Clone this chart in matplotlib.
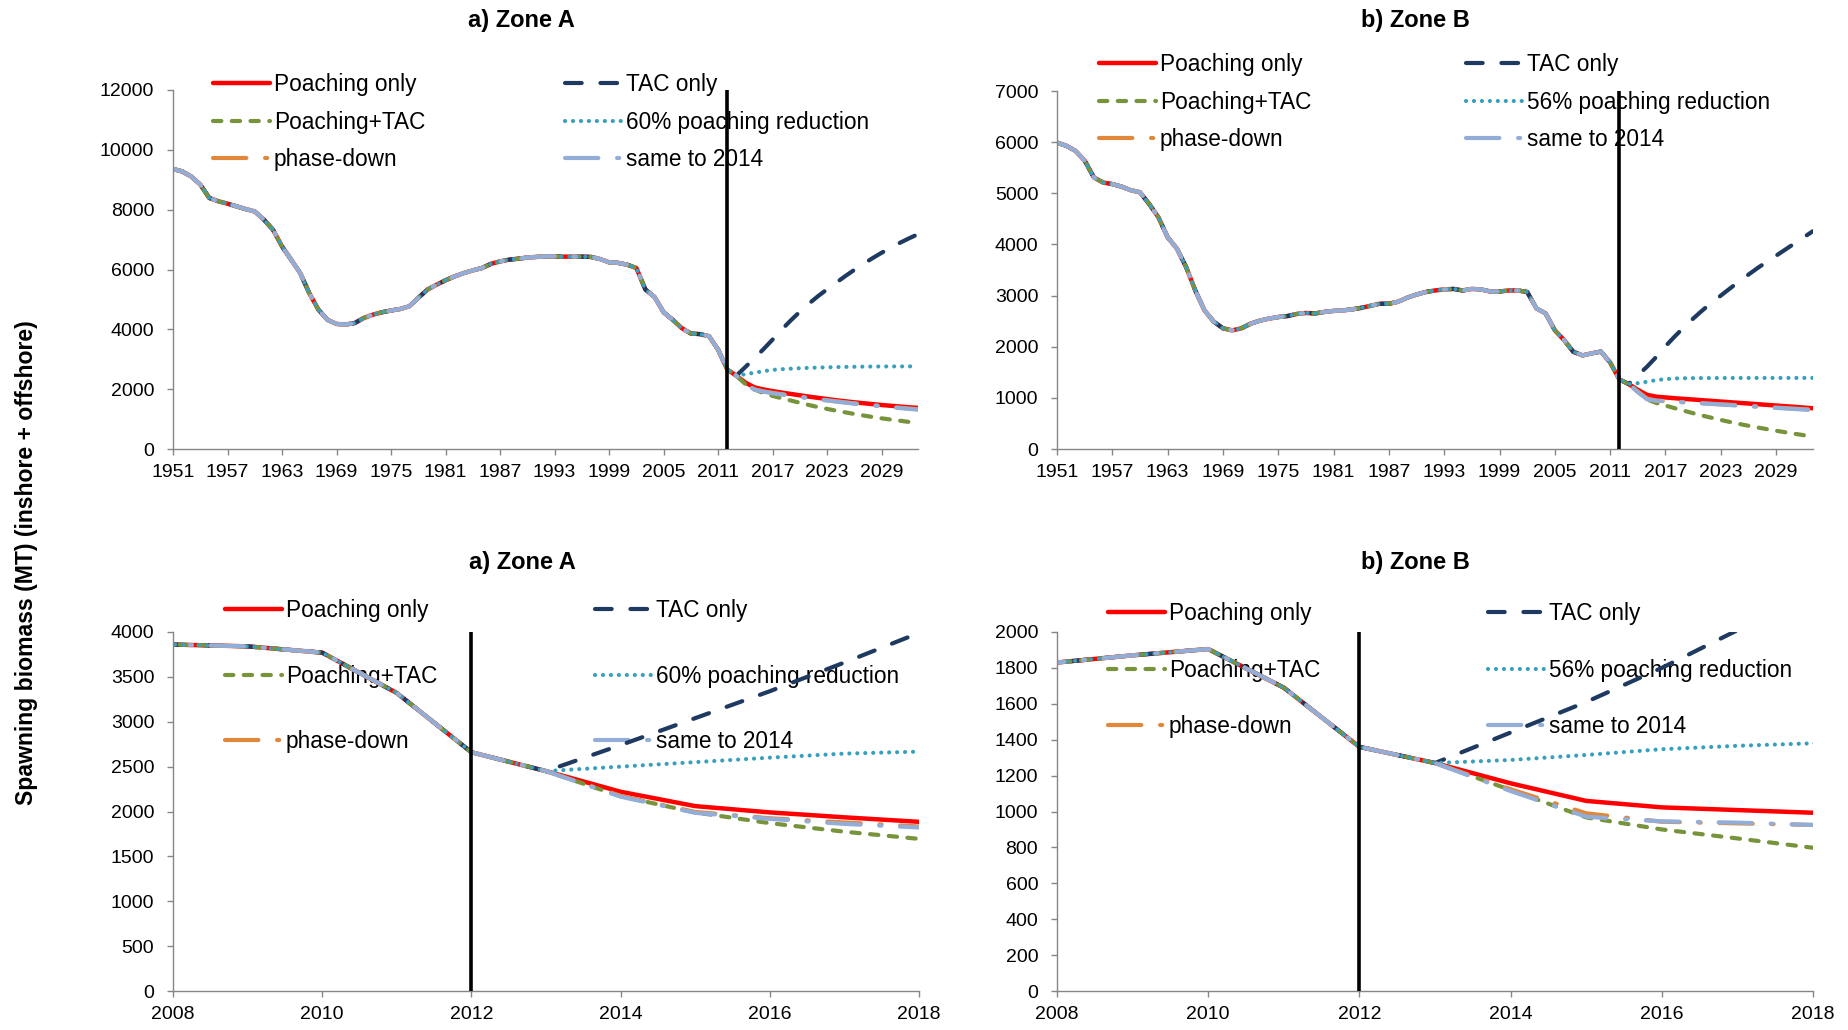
import numpy as np
import matplotlib
matplotlib.use("Agg")
import matplotlib.pyplot as plt
from matplotlib.legend import Legend

plt.rcParams["font.family"] = ["Liberation Sans", "DejaVu Sans"]

W, H = 1849, 1030

# Spawning biomass (MT), common history 1951-2013 for every scenario
HIST_YEARS = list(range(1951, 2014))
hist_a = [9360, 9280, 9110, 8840, 8390, 8280, 8200, 8110, 8020, 7940,
          7670, 7330, 6770, 6330, 5880, 5210, 4660, 4320, 4180, 4160,
          4210, 4380, 4490, 4570, 4630, 4680, 4770, 5050, 5330, 5490,
          5640, 5770, 5880, 5970, 6050, 6190, 6270, 6330, 6360, 6400,
          6420, 6440, 6440, 6430, 6430, 6430, 6420, 6350, 6240, 6220,
          6160, 6050, 5330, 5080, 4570, 4320, 4040, 3860, 3840, 3770,
          3320, 2660, 2450]
hist_b = [5990, 5930, 5830, 5640, 5310, 5210, 5180, 5130, 5060, 5020,
          4790, 4530, 4140, 3920, 3560, 3100, 2710, 2490, 2360, 2320,
          2360, 2450, 2510, 2550, 2580, 2600, 2640, 2660, 2650, 2680,
          2700, 2710, 2730, 2760, 2800, 2840, 2840, 2880, 2960, 3020,
          3070, 3100, 3120, 3130, 3100, 3130, 3120, 3080, 3080, 3100,
          3100, 3070, 2750, 2650, 2320, 2130, 1900, 1830, 1870, 1905,
          1690, 1360, 1270]

# Projections 2014-2033
PROJ_YEARS = list(range(2014, 2034))
poach_a = [2220, 2060, 1990, 1935, 1885, 1840, 1795, 1750, 1710, 1670,
           1630, 1595, 1560, 1530, 1500, 1470, 1445, 1420, 1395, 1375]
tac_a = [2740, 3040, 3340, 3660, 3990, 4300, 4590, 4860, 5110, 5340,
         5560, 5780, 5990, 6190, 6380, 6560, 6730, 6890, 7040, 7180]
both_a = [2170, 1990, 1870, 1775, 1695, 1620, 1545, 1470, 1400, 1340,
          1280, 1225, 1170, 1120, 1070, 1025, 985, 945, 905, 870]
cut_a = [2500, 2550, 2600, 2645, 2667, 2685, 2700, 2712, 2722, 2731,
         2738, 2744, 2749, 2753, 2756, 2758, 2760, 2761, 2762, 2763]
phase_a = [2175, 1995, 1925, 1878, 1833, 1790, 1750, 1710, 1670, 1630,
           1595, 1560, 1525, 1495, 1465, 1435, 1405, 1380, 1355, 1330]
same_a = [2165, 1985, 1918, 1862, 1822, 1778, 1737, 1697, 1658, 1620,
          1585, 1550, 1517, 1486, 1456, 1427, 1398, 1369, 1341, 1315]

poach_b = [1157, 1059, 1023, 1008, 993, 980, 967, 954, 941, 928,
           915, 902, 889, 876, 863, 850, 837, 824, 810, 797]
tac_b = [1440, 1610, 1800, 2010, 2200, 2380, 2550, 2710, 2860, 3000,
         3140, 3280, 3410, 3540, 3660, 3780, 3900, 4020, 4140, 4260]
both_b = [1120, 967, 900, 850, 798, 748, 700, 654, 610, 568,
          528, 490, 454, 420, 388, 357, 327, 298, 270, 243]
cut_b = [1287, 1315, 1347, 1366, 1380, 1384, 1386, 1387, 1388, 1388,
         1389, 1389, 1389, 1390, 1390, 1390, 1390, 1390, 1390, 1390]
phase_b = [1124, 990, 943, 934, 925, 915, 905, 895, 884, 874,
           864, 853, 843, 832, 822, 811, 801, 790, 780, 770]
same_b = [1114, 971, 945, 938, 925, 914, 903, 892, 881, 870,
          859, 848, 837, 826, 815, 804, 793, 782, 771, 760]

LABELS_A = ["Poaching only", "TAC only", "Poaching+TAC",
            "60% poaching reduction", "phase-down", "same to 2014"]
LABELS_B = ["Poaching only", "TAC only", "Poaching+TAC",
            "56% poaching reduction", "phase-down", "same to 2014"]
SCEN_A = [poach_a, tac_a, both_a, cut_a, phase_a, same_a]
SCEN_B = [poach_b, tac_b, both_b, cut_b, phase_b, same_b]

LW = 3.0
STYLES = [
    dict(color="#FF0000", lw=3.2, ls="-"),
    dict(color="#1F3A60", lw=LW, dashes=(4, 4.5)),
    dict(color="#77933C", lw=LW, dashes=(2.0, 2.5)),
    dict(color="#37A0BC", lw=LW, dashes=(0.01, 1.9)),
    dict(color="#E1873A", lw=LW, dashes=(8, 4.5, 0.5, 4.5)),
    dict(color="#92AED8", lw=LW, dashes=(8, 4.5, 0.5, 4.5)),
]
GRID = "#868686"
FS_TICK = 14
FS_LEG = 16.3


def fig_rect(left, right, top, bottom):
    return [left / W, 1 - bottom / H, (right - left) / W, (bottom - top) / H]


def add_legend_col(ax, handles, labels, x_px, ymid_px, spacing):
    leg = Legend(ax, handles, labels, loc="center left",
                 bbox_to_anchor=(x_px / W, 1 - ymid_px / H),
                 bbox_transform=fig.transFigure, frameon=False,
                 borderpad=0, borderaxespad=0, handlelength=2.5,
                 handletextpad=0.18, labelspacing=spacing, fontsize=FS_LEG)
    leg.set_zorder(1)
    ax.add_artist(leg)


def draw_panel(ax, scen, labels, hist, xlim, ylim, ystep, xticks,
               leg_x, leg_mid, leg_space):
    years = HIST_YEARS + PROJ_YEARS
    lines = []
    for vals, st in zip(scen, STYLES):
        y = hist + vals
        ln, = ax.plot(years, y, solid_capstyle="round",
                      dash_capstyle="round", zorder=2, **st)
        lines.append(ln)
    ax.axvline(2012, color="black", lw=2.6, zorder=3)
    ax.set_xlim(*xlim)
    ax.set_ylim(*ylim)
    ax.set_yticks(np.arange(ylim[0], ylim[1] + 1, ystep))
    ax.set_xticks(xticks)
    for s in ("top", "right"):
        ax.spines[s].set_visible(False)
    for s in ("left", "bottom"):
        ax.spines[s].set_color(GRID)
        ax.spines[s].set_linewidth(1.0)
    ax.tick_params(axis="both", direction="out", length=4.5, width=1.0,
                   color=GRID, labelsize=FS_TICK, labelcolor="black")
    ax.tick_params(axis="y", pad=9)
    ax.tick_params(axis="x", pad=6)
    # column-wise legend: left column then right column
    add_legend_col(ax, [lines[0], lines[2], lines[4]],
                   [labels[0], labels[2], labels[4]], leg_x[0], leg_mid, leg_space)
    add_legend_col(ax, [lines[1], lines[3], lines[5]],
                   [labels[1], labels[3], labels[5]], leg_x[1], leg_mid, leg_space)


fig = plt.figure(figsize=(W / 100, H / 100), dpi=100)

ax_tl = fig.add_axes(fig_rect(173, 918, 90, 449))
ax_tr = fig.add_axes(fig_rect(1057, 1813, 91, 449))
ax_bl = fig.add_axes(fig_rect(173, 919, 632, 991))
ax_br = fig.add_axes(fig_rect(1057, 1813, 632, 991))

long_ticks = list(range(1951, 2030, 6))
short_ticks = list(range(2008, 2019, 2))

draw_panel(ax_tl, SCEN_A, LABELS_A, hist_a, (1951, 2033), (0, 12000), 2000,
           long_ticks, (213, 565), 122, 0.65)
draw_panel(ax_tr, SCEN_B, LABELS_B, hist_b, (1951, 2033), (0, 7000), 1000,
           long_ticks, (1099, 1466), 102, 0.65)
draw_panel(ax_bl, SCEN_A, LABELS_A, hist_a, (2008, 2018), (0, 4000), 500,
           short_ticks, (225, 595), 676, 1.87)
draw_panel(ax_br, SCEN_B, LABELS_B, hist_b, (2008, 2018), (0, 2000), 200,
           short_ticks, (1108, 1488), 670, 1.47)

for txt, x, y in [("a) Zone A", 521, 20), ("b) Zone B", 1415, 20),
                  ("a) Zone A", 522, 562), ("b) Zone B", 1415, 562)]:
    fig.text(x / W, 1 - y / H, txt, ha="center", va="center",
             fontsize=17, fontweight="bold")

fig.text(27 / W, 1 - 563 / H, "Spawning biomass (MT) (inshore + offshore)",
         rotation=90, ha="center", va="center", fontsize=16.6,
         fontweight="bold")

fig.savefig("out.png", dpi=100)
